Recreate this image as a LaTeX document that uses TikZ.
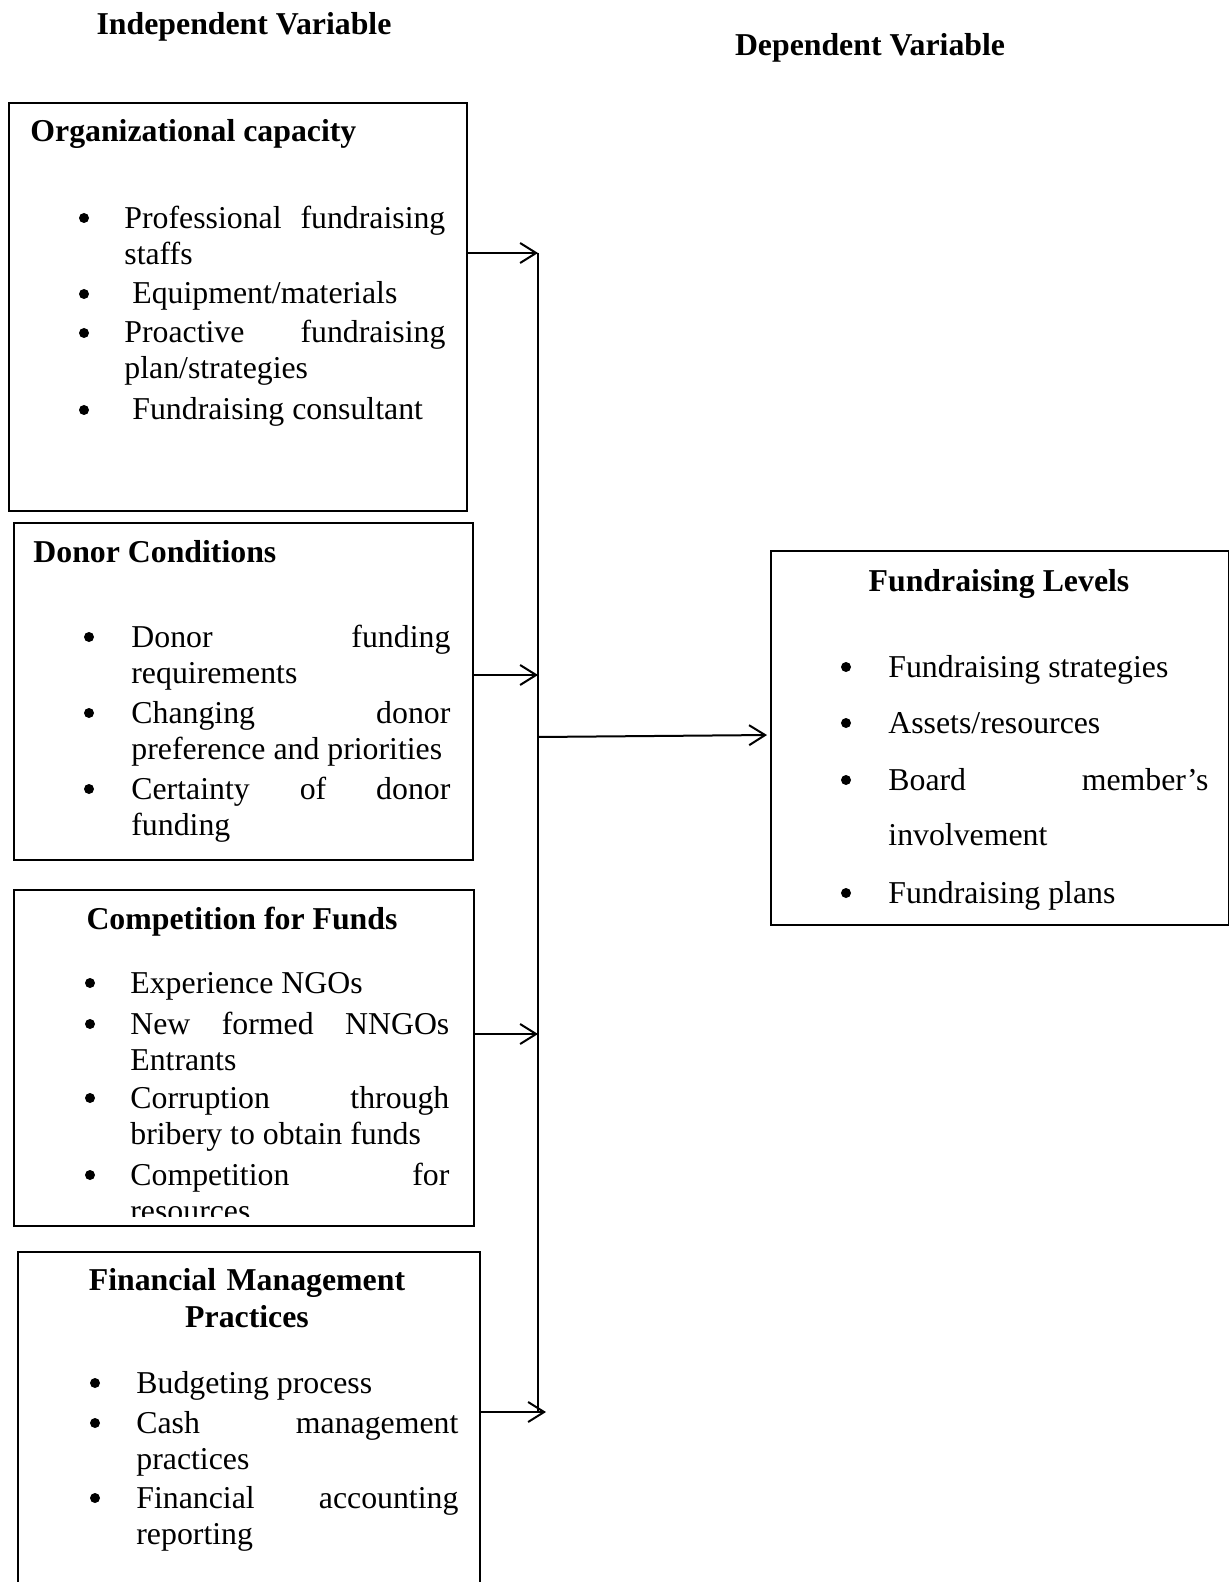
\documentclass[tikz,border=0pt]{standalone}
\usepackage{fontspec}
\setmainfont{Liberation Serif}
\usetikzlibrary{arrows.meta}
\pretolerance=10000
\tolerance=10000
\hyphenpenalty=10000
\exhyphenpenalty=10000
\begin{document}
\begin{tikzpicture}[x=0.5pt,y=-0.5pt,
  box/.style={draw, line width=1pt, inner sep=0pt, anchor=north west},
  hd/.style={font=\fontsize{15.9pt}{18.5pt}\selectfont\bfseries, inner sep=0pt},
  itm/.style={font=\fontsize{15.9pt}{18pt}\selectfont, inner sep=0pt, anchor=base west, align=justify, text width=160pt},
  bul/.style={fill=black},
  arr/.style={line width=1pt, -{Straight Barb[length=8pt,width=10pt]}},
  ln/.style={line width=1pt}]
\clip (0,0) rectangle (1229,1582);

% headers
\node[hd, anchor=base] (indep) at (244,35) {Independent Variable};
\node[hd, anchor=base] (dep) at (870,56) {Dependent Variable};

% boxes
\node[box, minimum width=229pt, minimum height=204pt] (b1) at (8,102) {};
\node[box, minimum width=229.5pt, minimum height=168.5pt] (b2) at (13,522) {};
\node[box, minimum width=230pt, minimum height=168pt] (b3) at (13,889) {};
\node[box, minimum width=231pt, minimum height=200pt] (b4) at (17,1251) {};
\node[box, minimum width=229pt, minimum height=187pt] (b5) at (770,550) {};

% box 1
\node[hd, anchor=base west] (h1) at (30,142) {Organizational capacity};
\fill[bul] (84,218) circle[radius=2.5pt];
\fill[bul] (84,294) circle[radius=2.5pt];
\fill[bul] (84,333) circle[radius=2.5pt];
\fill[bul] (84,410) circle[radius=2.5pt];
\node[itm, text width=160.5pt] (i11) at (124,229) {Professional fundraising\linebreak staffs};
\node[itm] (i12) at (132,304) {Equipment/materials};
\node[itm, text width=160.5pt] (i13) at (124,343) {Proactive fundraising\linebreak plan/strategies};
\node[itm] (i14) at (132,420) {Fundraising consultant};

% box 2
\node[hd, anchor=base west] (h2) at (33,562) {Donor Conditions};
\fill[bul] (89,637) circle[radius=2.5pt];
\fill[bul] (89,713) circle[radius=2.5pt];
\fill[bul] (89,789) circle[radius=2.5pt];
\node[itm, text width=159.5pt] (i21) at (131,647) {Donor funding\linebreak requirements};
\node[itm, text width=159.5pt] (i22) at (131,723) {Changing donor\linebreak preference and priorities};
\node[itm, text width=159.5pt] (i23) at (131,799) {Certainty of donor\linebreak funding};

% box 3
\node[hd, anchor=base] (h3) at (242,929) {Competition for Funds};
\fill[bul] (90,983) circle[radius=2.5pt];
\fill[bul] (90,1024) circle[radius=2.5pt];
\fill[bul] (90,1098) circle[radius=2.5pt];
\fill[bul] (90,1175) circle[radius=2.5pt];
\node[itm, text width=159.5pt] (i31) at (130,993) {Experience NGOs};
\node[itm, text width=159.5pt] (i32) at (130,1034) {New formed NNGOs\linebreak Entrants};
\node[itm, text width=159.5pt] (i33) at (130,1108) {Corruption through\linebreak bribery to obtain funds};
\begin{scope}
\clip (14,889) rectangle (472,1216);
\node[itm, text width=159.5pt] (i34) at (130,1185) {Competition for\linebreak resources};
\end{scope}

% box 4
\node[hd, anchor=base, text width=230pt, align=center] (h4) at (247,1290) {Financial Management\\Practices};
\fill[bul] (95,1383) circle[radius=2.5pt];
\fill[bul] (95,1423) circle[radius=2.5pt];
\fill[bul] (95,1498) circle[radius=2.5pt];
\node[itm, text width=161pt] (i41) at (136,1393) {Budgeting process};
\node[itm, text width=161pt] (i42) at (136,1433) {Cash management\linebreak practices};
\node[itm, text width=161pt] (i43) at (136,1508) {Financial accounting\linebreak reporting};

% box 5
\node[hd, anchor=base] (h5) at (999,591) {Fundraising Levels};
\fill[bul] (846,667) circle[radius=2.5pt];
\fill[bul] (846,723) circle[radius=2.5pt];
\fill[bul] (846,780) circle[radius=2.5pt];
\fill[bul] (846,893) circle[radius=2.5pt];
\node[itm] (i51) at (888,677) {Fundraising strategies};
\node[itm] (i52) at (888,733) {Assets/resources};
\node[itm, font=\fontsize{15.9pt}{27.5pt}\selectfont] (i53) at (888,790) {Board member’s\linebreak involvement};
\node[itm] (i54) at (888,903) {Fundraising plans};

% connectors
\coordinate (j1) at (538,253);
\coordinate (j2) at (538,675);
\coordinate (j3) at (538,1034);
\coordinate (j4) at (538,1412);
\coordinate (t4) at (546,1412);
\coordinate (m) at (538,737);
\draw[ln] (j1) -- (j4);
\draw[arr] (b1.east |- j1) -- (j1);
\draw[arr] (b2.east |- j2) -- (j2);
\draw[arr] (b3.east |- j3) -- (j3);
\draw[arr] (b4.east |- t4) -- (t4);
\draw[arr, shorten >=1.5pt] (m) -- ([yshift=1.5pt]b5.west);
\end{tikzpicture}
\end{document}
